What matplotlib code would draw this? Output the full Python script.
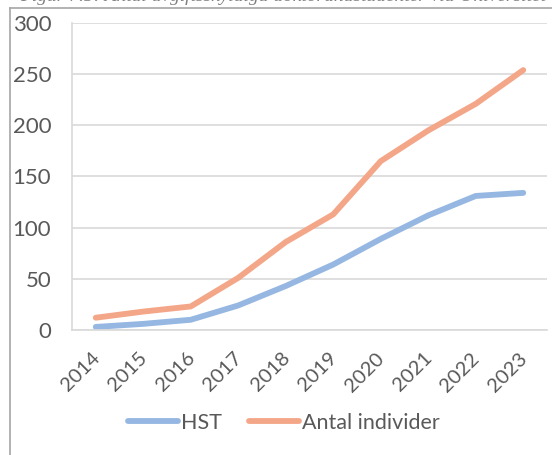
import matplotlib
matplotlib.use("Agg")
import matplotlib.pyplot as plt
from matplotlib.lines import Line2D
from matplotlib.transforms import ScaledTranslation

years = ["2014", "2015", "2016", "2017", "2018", "2019", "2020", "2021", "2022", "2023"]
hst = [3, 6, 10, 24, 43, 64, 89, 112, 131, 134]
individer = [12, 18, 23, 51, 86, 113, 165, 195, 221, 254]
series_labels = ["HST", "Antal individer"]
y_ticks = [0, 50, 100, 150, 200, 250, 300]

BLUE = "#95B7E1"
ORANGE = "#F4A688"
TEXT = "#595959"
GRID = "#D9D9D9"
FONT = ["Lato", "DejaVu Sans"]

W, H = 552, 455
fig = plt.figure(figsize=(W / 100, H / 100), dpi=100)

# frame lines of the surrounding figure box
fig.add_artist(Line2D([10 / W, 10 / W], [0, 1 - 8 / H], color="#A6A6A6", lw=1.2))
fig.add_artist(Line2D([10 / W, 1], [1 - 8 / H, 1 - 8 / H], color="#A6A6A6", lw=1.2))
# clipped caption above the box
fig.text(20 / W, 1 - 5 / H, "Figur 7.5: Antal avgiftsskyldiga doktorandstudenter via Universitet",
         fontsize=14, style="italic", family="Liberation Serif", color="#808080", va="bottom")

left, right, top, bottom = 72, 547, 23, 330
ax = fig.add_axes([left / W, 1 - bottom / H, (right - left) / W, (bottom - top) / H])

x = range(len(years))
ax.plot(x, hst, color=BLUE, lw=4.2, solid_capstyle="round", solid_joinstyle="round", label=series_labels[0])
ax.plot(x, individer, color=ORANGE, lw=4.2, solid_capstyle="round", solid_joinstyle="round", label=series_labels[1])

ax.set_xlim(-0.5, len(years) - 0.5)
ax.set_ylim(0, 300)
ax.set_yticks(y_ticks)
ax.set_yticklabels([str(v) for v in y_ticks], family=FONT, fontsize=16, color=TEXT)
ax.set_xticks(list(x))
ax.set_xticklabels(years, rotation=45, ha="right", rotation_mode="anchor", family=FONT, fontsize=14.5, color=TEXT)
ax.tick_params(axis="y", length=0, pad=15)
ax.tick_params(axis="x", length=0, pad=14)
shift = ScaledTranslation(-5 / 100, 0, fig.dpi_scale_trans)
for lab in ax.get_xticklabels():
    lab.set_transform(lab.get_transform() + shift)
ax.grid(axis="y", color=GRID, lw=1.2)
ax.set_axisbelow(True)
for side in ["top", "right"]:
    ax.spines[side].set_visible(False)
ax.spines["left"].set_color(GRID)
ax.spines["bottom"].set_color(GRID)
ax.spines["left"].set_linewidth(1.2)
ax.spines["bottom"].set_linewidth(1.2)

fig.legend(loc="center", bbox_to_anchor=(284 / W, 1 - 423 / H), ncol=2, frameon=False,
           prop={"family": FONT, "size": 15.5}, labelcolor=TEXT, handlelength=2.3,
           handletextpad=0.15, columnspacing=1.25)

fig.savefig("out.png", dpi=100)
